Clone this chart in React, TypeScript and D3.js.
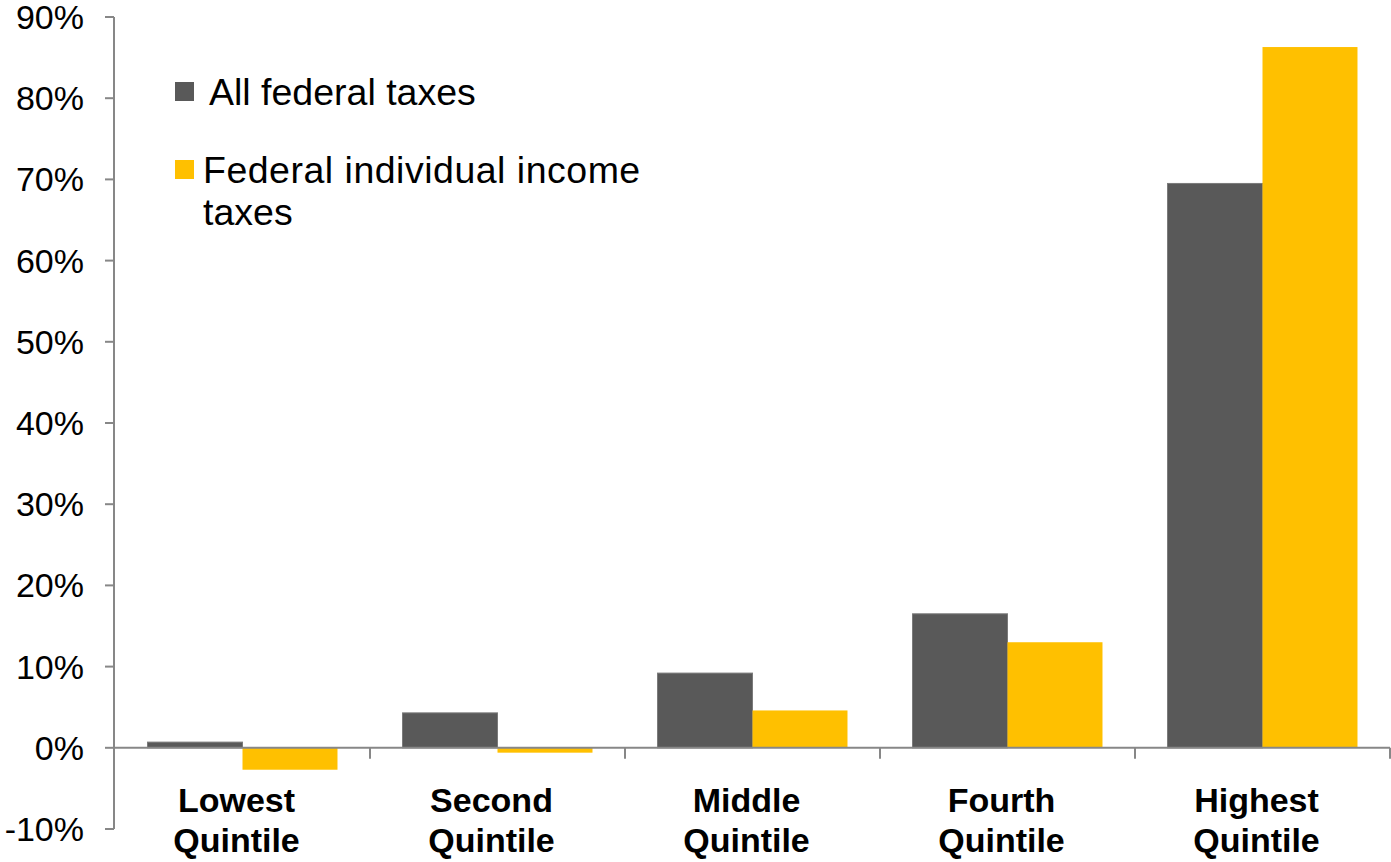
import React from "react";
import * as d3 from "d3";

const categories = ["Lowest Quintile", "Second Quintile", "Middle Quintile", "Fourth Quintile", "Highest Quintile"];
const categoryLines = [["Lowest", "Quintile"], ["Second", "Quintile"], ["Middle", "Quintile"], ["Fourth", "Quintile"], ["Highest", "Quintile"]];
const seriesNames = ["All federal taxes", "Federal individual income taxes"];
const allFederal = [0.7, 4.3, 9.2, 16.5, 69.5];
const individualIncome = [-2.7, -0.6, 4.6, 13.0, 86.3];
const yTicks = [-10, 0, 10, 20, 30, 40, 50, 60, 70, 80, 90];
const colors = ["#595959", "#FFC000"];

export default function App() {
  const W = 1391, H = 862;
  const x0 = 115, x1 = 1390;
  const y = d3.scaleLinear().domain([-10, 90]).range([829, 17]);
  const x = d3.scaleBand<string>().domain(categories).range([x0, x1]).paddingInner(0.255).paddingOuter(0.1275);
  const xs = d3.scaleBand<string>().domain(seriesNames).range([0, x.bandwidth()]);
  const series = [allFederal, individualIncome];
  const axisColor = "#878787";
  const font = "Arial, 'Liberation Sans', Helvetica, sans-serif";
  const step = x.step();
  const boundaries = d3.range(1, categories.length + 1).map(i => x0 + i * step);

  return (
    <svg width={W} height={H} style={{ position: "absolute", left: 0, top: 0, background: "#fff" }} fontFamily={font}>
      {/* bars */}
      {categories.map((c, i) =>
        series.map((vals, s) => {
          const v = vals[i];
          const bx = (x(c) as number) + (xs(seriesNames[s]) as number);
          const top = y(Math.max(0, v));
          const bottom = y(Math.min(0, v));
          return (
            <rect key={c + s} x={bx} y={top} width={xs.bandwidth()} height={bottom - top}
              fill={colors[s]} stroke={s === 0 ? "#7a7a7a" : "none"} strokeWidth={s === 0 ? 1 : 0} />
          );
        })
      )}
      {/* y axis */}
      <line x1={114} x2={114} y1={y(90)} y2={y(-10)} stroke={axisColor} strokeWidth={2} />
      {yTicks.map(t => (
        <g key={t}>
          <line x1={105} x2={114} y1={y(t)} y2={y(t)} stroke={axisColor} strokeWidth={2} />
          <text x={84} y={y(t)} dy="0.35em" textAnchor="end" fontSize={34} fill="#000">{t}%</text>
        </g>
      ))}
      {/* x axis */}
      <line x1={114} x2={x1} y1={y(0)} y2={y(0)} stroke={axisColor} strokeWidth={2} />
      {boundaries.map((b, i) => (
        <line key={i} x1={b} x2={b} y1={y(0)} y2={y(0) + 11} stroke={axisColor} strokeWidth={2} />
      ))}
      {categories.map((c, i) => (
        <text key={c} textAnchor="middle" fontSize={34} fontWeight="bold" fill="#000">
          {categoryLines[i].map((ln, j) => (
            <tspan key={j} x={(x(c) as number) + x.bandwidth() / 2 - 6} y={812 + j * 40}>{ln}</tspan>
          ))}
        </text>
      ))}
      {/* legend */}
      <rect x={175} y={82} width={19} height={19} fill={colors[0]} />
      <text x={209} y={105} fontSize={37.5} fill="#000">{seriesNames[0]}</text>
      <rect x={175} y={160} width={19} height={19} fill={colors[1]} />
      <text fontSize={37.5} fill="#000">
        <tspan x={203} y={183} letterSpacing={0.5}>Federal individual income</tspan>
        <tspan x={203} y={225}>taxes</tspan>
      </text>
    </svg>
  );
}
